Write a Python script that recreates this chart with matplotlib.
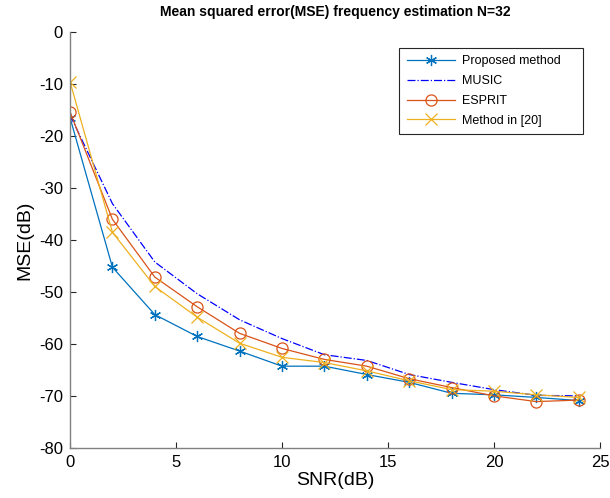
import matplotlib
matplotlib.use("Agg")
import matplotlib.pyplot as plt

plt.rcParams['font.family'] = ['Liberation Sans', 'DejaVu Sans']
plt.rcParams['axes.unicode_minus'] = False

# SNR points (dB)
snr = [0, 2, 4, 6, 8, 10, 12, 14, 16, 18, 20, 22, 24]

# MSE values in dB
mse_proposed = [-16.5, -45.2, -54.3, -58.5, -61.3, -64.2, -64.2, -65.8, -67.3, -69.4, -69.7, -70.2, -70.8]
mse_music = [-16.0, -33.0, -44.2, -50.3, -55.3, -58.9, -62.0, -63.1, -65.8, -67.3, -68.7, -69.8, -69.9]
mse_esprit = [-15.4, -36.0, -47.1, -52.8, -57.9, -60.8, -62.9, -64.2, -66.6, -68.3, -69.9, -71.0, -70.7]
mse_method20 = [-9.6, -38.5, -48.9, -54.8, -59.8, -62.5, -63.5, -65.1, -67.0, -68.7, -69.0, -69.7, -70.2]

labels = ['Proposed method', 'MUSIC', 'ESPRIT', 'Method in [20]']
yticks = [0, -10, -20, -30, -40, -50, -60, -70, -80]
xticks = [0, 5, 10, 15, 20, 25]

fig = plt.figure(figsize=(6.1, 4.98), dpi=100)
ax = fig.add_axes([0.1148, 0.0994, 0.8688, 0.8369])

ax.plot(snr, mse_proposed, color='#0072BD', lw=0.9, marker=(6, 2, 0),
        ms=8, mew=0.9, label=labels[0])
ax.plot(snr, mse_music, color='#0000FF', lw=0.9, ls='-.', label=labels[1])
ax.plot(snr, mse_esprit, color='#D95319', lw=0.9, marker='o', ms=8,
        mfc='none', mew=0.9, label=labels[2])
ax.plot(snr, mse_method20, color='#EDB120', lw=0.9, marker='x', ms=8,
        mew=0.9, label=labels[3])

ax.set_xlim(0, 25)
ax.set_ylim(-80, 0)
ax.set_xticks(xticks)
ax.set_yticks(yticks)
ax.tick_params(direction='in', length=4, width=0.8, colors='#262626',
               labelsize=12, labelcolor='black', pad=5)
for side in ['top', 'right']:
    ax.spines[side].set_visible(False)
for side in ['left', 'bottom']:
    ax.spines[side].set_color('#808080')
    ax.spines[side].set_linewidth(1.0)

ax.set_xlabel('SNR(dB)', fontsize=14, labelpad=1)
ax.set_ylabel('MSE(dB)', fontsize=14, labelpad=4)
ax.set_title('Mean squared error(MSE) frequency estimation N=32',
             fontsize=10, fontweight='bold', pad=11)

# legend box stretched to the width seen in the reference
leg = ax.legend(loc='upper left', bbox_to_anchor=(0.6208, 0.70, 0.347, 0.261),
                mode='expand', fontsize=9, fancybox=False, framealpha=1,
                edgecolor='#262626', handlelength=3.9, handletextpad=0.5,
                borderpad=0.6, labelspacing=0.62, borderaxespad=0)
leg.get_frame().set_linewidth(0.8)

fig.savefig('out.png', dpi=100)
